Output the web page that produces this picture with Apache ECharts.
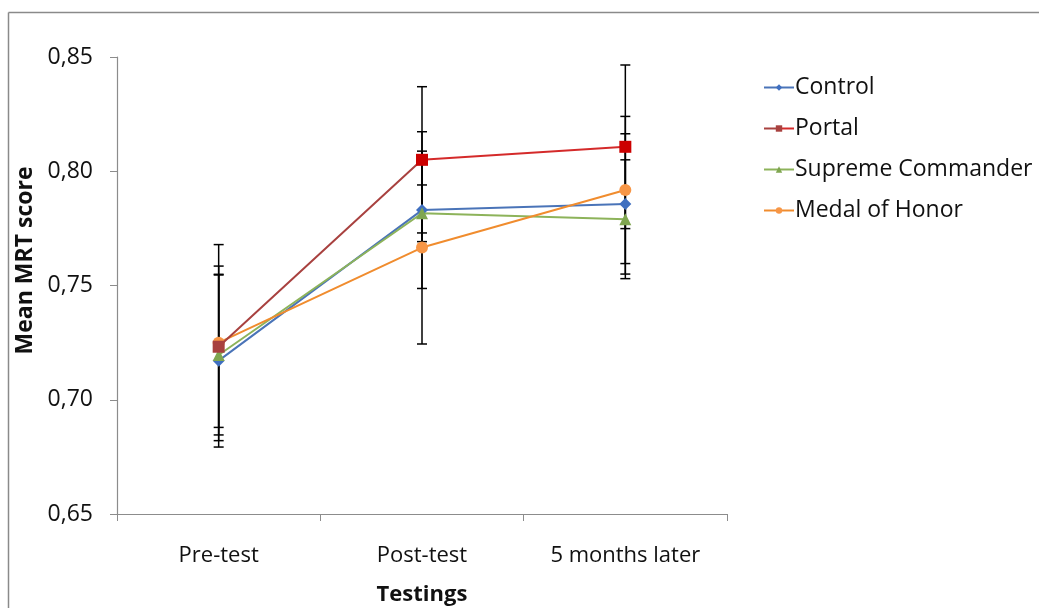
<!DOCTYPE html>
<html><head><meta charset="utf-8">
<script src="https://cdn.jsdelivr.net/npm/echarts@6/dist/echarts.min.js"></script>
<style>html,body{margin:0;padding:0;background:#fff;}#c{width:1039px;height:608px;}</style>
</head><body><div id="c"></div>
<script>
const categories = ['Pre-test', 'Post-test', '5 months later'];
const control = [0.7171, 0.7830, 0.7857];
const portal = [0.7232, 0.8050, 0.8107];
const supreme = [0.7196, 0.7816, 0.7790];
const medal = [0.7250, 0.7666, 0.7918];
const controlErr = [0.0378, 0.0343, 0.0307];
const portalErr = [0.0353, 0.0320, 0.0358];
const supremeErr = [0.0350, 0.0124, 0.0260];
const medalErr = [0.0429, 0.0422, 0.0322];
const yTicks = { min: 0.65, max: 0.85, interval: 0.05 };

const FONT = '"Open Sans", Lato, sans-serif';
const chart = echarts.init(document.getElementById('c'));

function errData(means, errs) {
  return means.map((m, i) => [i, m - errs[i], m + errs[i]]);
}
function errSeries(means, errs) {
  return {
    type: 'custom',
    z: 1,
    silent: true,
    data: errData(means, errs),
    renderItem: function (params, api) {
      const lo = api.coord([api.value(0), api.value(1)]);
      const hi = api.coord([api.value(0), api.value(2)]);
      const w = 5;
      const st = { stroke: '#000', lineWidth: 1.5 };
      return {
        type: 'group',
        children: [
          { type: 'line', shape: { x1: hi[0], y1: hi[1], x2: lo[0], y2: lo[1] }, style: st },
          { type: 'line', shape: { x1: hi[0] - w, y1: hi[1], x2: hi[0] + w, y2: hi[1] }, style: st },
          { type: 'line', shape: { x1: lo[0] - w, y1: lo[1], x2: lo[0] + w, y2: lo[1] }, style: st }
        ]
      };
    }
  };
}

const portalLine = {
  type: 'linear', x: 0, y: 0, x2: 1, y2: 0,
  colorStops: [
    { offset: 0, color: '#A8413F' }, { offset: 0.5, color: '#A8413F' },
    { offset: 0.5, color: '#D42A2A' }, { offset: 1, color: '#D42A2A' }
  ]
};

chart.setOption({
  animation: false,
  textStyle: { fontFamily: FONT },
  grid: { left: 117, right: 312, top: 57, bottom: 94, containLabel: false, outerBoundsMode: 'none' },
  legend: {
    orient: 'vertical',
    left: 763, top: 76,
    padding: 0,
    itemGap: 18,
    itemWidth: 30, itemHeight: 8,
    textStyle: { fontSize: 23, color: '#111', fontFamily: FONT, padding: [0, 0, 0, -4] },
    data: ['Control', 'Portal', 'Supreme Commander', 'Medal of Honor']
  },
  xAxis: {
    type: 'category',
    data: categories,
    boundaryGap: true,
    axisLine: { lineStyle: { color: '#8c8c8c', width: 1.2 } },
    axisTick: { show: true, length: 7, lineStyle: { color: '#8c8c8c' } },
    axisLabel: { fontSize: 22, color: '#111', margin: 31, fontFamily: FONT },
    name: 'Testings',
    nameLocation: 'middle',
    nameGap: 70,
    nameTextStyle: { fontSize: 22, fontWeight: 'bold', color: '#111', fontFamily: FONT }
  },
  yAxis: {
    type: 'value',
    min: yTicks.min, max: yTicks.max, interval: yTicks.interval,
    axisLine: { show: true, lineStyle: { color: '#8c8c8c', width: 1.2 } },
    axisTick: { show: true, length: 7, lineStyle: { color: '#8c8c8c' } },
    splitLine: { show: false },
    axisLabel: {
      fontSize: 23, color: '#111', margin: 24, fontFamily: FONT,
      formatter: v => v.toFixed(2).replace('.', ',')
    },
    name: 'Mean MRT score',
    nameLocation: 'middle',
    nameGap: 78,
    nameTextStyle: { fontSize: 23, fontWeight: 'bold', color: '#111', fontFamily: FONT, padding: [0, 0, 0, 50] }
  },
  graphic: [
    { type: 'line', shape: { x1: 8.5, y1: 12.5, x2: 8.5, y2: 608 }, style: { stroke: '#8a8a8a', lineWidth: 1.5 }, silent: true },
    { type: 'line', shape: { x1: 8.5, y1: 12.5, x2: 1039, y2: 12.5 }, style: { stroke: '#8a8a8a', lineWidth: 1.5 }, silent: true }
  ],
  series: [
    errSeries(control, controlErr),
    errSeries(portal, portalErr),
    errSeries(supreme, supremeErr),
    errSeries(medal, medalErr),
    {
      name: 'Control', type: 'line', z: 3, data: control,
      symbol: 'diamond', symbolSize: 12,
      lineStyle: { color: '#4A74B8', width: 2 },
      itemStyle: { color: '#3F6FC0' }
    },
    {
      name: 'Portal', type: 'line', z: 4, data: portal.map((v, i) => i === 0 ? v : { value: v, itemStyle: { color: '#CC0000' } }),
      symbol: 'rect', symbolSize: 12,
      lineStyle: { color: portalLine, width: 2 },
      itemStyle: { color: '#A8413F' }
    },
    {
      name: 'Supreme Commander', type: 'line', z: 3, data: supreme,
      symbol: 'triangle', symbolSize: 12,
      lineStyle: { color: '#8DB35A', width: 2 },
      itemStyle: { color: '#7FA650' }
    },
    {
      name: 'Medal of Honor', type: 'line', z: 3, data: medal,
      symbol: 'circle', symbolSize: 12,
      lineStyle: { color: '#F08C2E', width: 2 },
      itemStyle: { color: '#F79646' }
    }
  ]
});
</script></body></html>
